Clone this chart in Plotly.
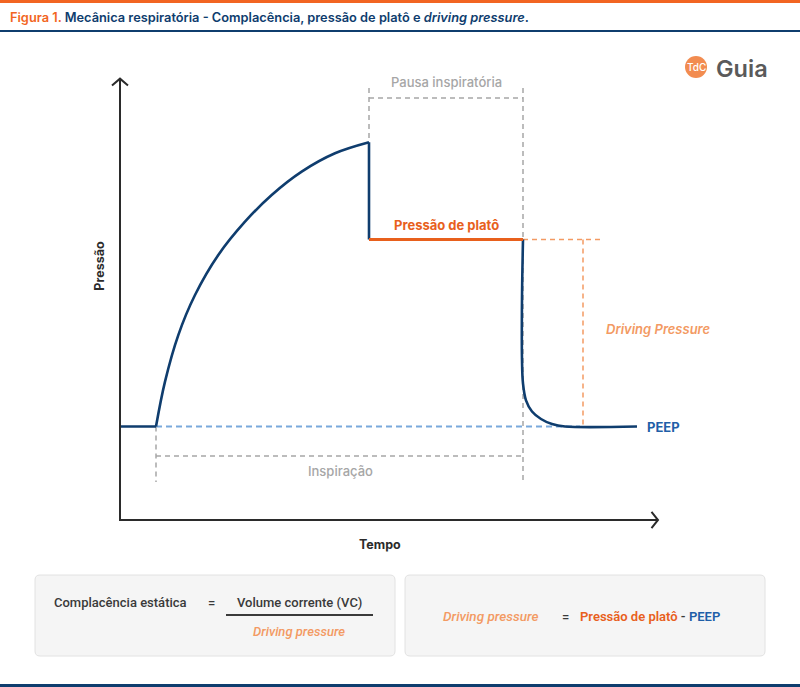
import plotly.graph_objects as go

# waveform (time in s, pressure in cmH2O)
t_base = [0.0, 0.36]
p_base = [5.0, 5.0]
t_rise = [0.36, 0.45, 0.583, 0.75, 0.983, 1.25, 1.517, 1.817, 2.15, 2.49]
p_rise = [5.0, 7.40, 9.89, 12.03, 14.17, 15.95, 17.38, 18.63, 19.61, 20.2]
t_drop = [2.49, 2.49]
p_drop = [20.2, 15.0]
t_plat = [2.49, 4.03]
p_plat = [15.0, 15.0]
t_exp = [4.03, 4.02, 4.02, 4.03, 4.06, 4.12, 4.21, 4.32, 4.45, 5.17]
p_exp = [15.0, 11.8, 8.6, 7.3, 6.4, 5.8, 5.4, 5.13, 5.0, 5.0]

PEEP = 5.0
PLATEAU = 15.0
PEAK = 20.2
T_START, T_PAUSE, T_END_INSP, T_PEEP = 0.36, 2.49, 4.03, 4.45
T_DP, T_DP_END = 4.63, 4.84
T_MAX, P_MAX = 5.38, 23.6

NAVY = "#0f3d6e"
ORANGE = "#e8601c"
LIGHT_OR = "#f39a63"
BLUE = "#1f5fa8"
LBLUE = "#7aa9dc"
GRAY = "#a6a6a6"
DARK = "#2b2b2b"

fig = go.Figure()

def line(x, y, color, width, dash=None, shape="linear", smoothing=1.0):
    fig.add_trace(go.Scatter(x=x, y=y, mode="lines", hoverinfo="skip",
                             line=dict(color=color, width=width, dash=dash, shape=shape,
                                       smoothing=smoothing),
                             showlegend=False))

# guide lines
line([T_START, T_PEEP + 0.15], [PEEP, PEEP], LBLUE, 2, "6px,4px")
line([T_START, T_START], [PEEP, 2.03], GRAY, 1.5, "5px,4px")
line([T_END_INSP, T_END_INSP], [23.1, 2.03], GRAY, 1.5, "5px,4px")
line([T_PAUSE, T_PAUSE], [23.1, PEAK], GRAY, 1.5, "5px,4px")
line([T_PAUSE, T_END_INSP], [22.57, 22.57], GRAY, 1.5, "5px,4px")
line([T_START, T_END_INSP], [3.42, 3.42], GRAY, 1.5, "5px,4px")
line([T_END_INSP, T_DP_END], [PLATEAU, PLATEAU], LIGHT_OR, 1.5, "5px,4px")
line([T_DP, T_DP], [PLATEAU, PEEP], LIGHT_OR, 1.5, "5px,4px")

# waveform
line(t_base, p_base, NAVY, 2.6)
line(t_rise, p_rise, NAVY, 2.6, shape="spline", smoothing=1.0)
line(t_drop, p_drop, NAVY, 2.6)
line(t_exp, p_exp, NAVY, 2.6, shape="spline")
line(t_plat, p_plat, ORANGE, 2.8)

# axes with open arrowheads
line([0, 0, T_MAX], [P_MAX, 0, 0], DARK, 2)
line([-0.08, 0, 0.08], [P_MAX - 0.37, P_MAX, P_MAX - 0.37], DARK, 2)
line([T_MAX - 0.065, T_MAX, T_MAX - 0.065], [0.43, 0, -0.43], DARK, 2)

ann = []
def txt(x, y, s, color, size=13, weight=600, style="normal", xanchor="center",
        ref=("x", "y"), font="Inter", angle=0):
    ann.append(dict(x=x, y=y, xref=ref[0], yref=ref[1], text=s, showarrow=False,
                    xanchor=xanchor, yanchor="middle", textangle=angle,
                    font=dict(family=font, size=size, color=color, weight=weight, style=style)))

txt((T_PAUSE + T_END_INSP) / 2, 23.42, "Pausa inspiratória", GRAY, weight=500)
txt((T_PAUSE + T_END_INSP) / 2, 15.75, "Pressão de platô", ORANGE, weight=700)
txt(4.84, 10.2, "Driving Pressure", LIGHT_OR, weight=600, style="italic", xanchor="left")
txt(5.25, PEEP, "PEEP", BLUE, weight=700, xanchor="left")
txt(2.2, 2.62, "Inspiração", GRAY, weight=500)
txt(2.6, -1.3, "Tempo", DARK, size=12.5, weight=700)
txt(-0.2, 13.6, "Pressão", DARK, size=12.5, weight=700, angle=-90)

P = ("x2", "y2")
# header
txt(8, 17, "<span style='color:#f26522'>Figura 1.</span> Mecânica respiratória - Complacência, "
    "pressão de platô e <i>driving pressure</i>.", NAVY, size=12.8, weight=600,
    xanchor="left", ref=P)
# logo
txt(696, 67, "TdC", "white", size=10, weight=500, ref=P)
txt(714, 68, "Guia", "#5a5a5a", size=23.5, weight=600, xanchor="left", ref=P)
# formula boxes
txt(52, 602, "Complacência estática", "#3a3a3a", size=13, weight=500, xanchor="left", ref=P, font="Roboto")
txt(211, 602, "=", "#3a3a3a", size=13, weight=500, ref=P, font="Roboto")
txt(299, 602, "Volume corrente (VC)", "#3a3a3a", size=13, weight=500, ref=P, font="Roboto")
txt(299, 631, "Driving pressure", LIGHT_OR, size=13, weight=500, style="italic", ref=P, font="Roboto")
txt(441, 616, "Driving pressure", LIGHT_OR, size=13.5, weight=500, style="italic", xanchor="left", ref=P, font="Roboto")
txt(565, 616, "=", "#3a3a3a", size=13, weight=500, ref=P, font="Roboto")
txt(578, 616, "Pressão de platô <span style='color:#3a3a3a'>-</span> "
    "<span style='color:#1f5fa8'>PEEP</span>", ORANGE, size=13, weight=600,
    xanchor="left", ref=P, font="Roboto")


def rbox(x0, y0, x1, y1, r=5):
    return (f"M{x0+r},{y0} L{x1-r},{y0} Q{x1},{y0} {x1},{y0+r} L{x1},{y1-r} Q{x1},{y1} {x1-r},{y1} "
            f"L{x0+r},{y1} Q{x0},{y1} {x0},{y1-r} L{x0},{y0+r} Q{x0},{y0} {x0+r},{y0} Z")

shapes = [
    dict(type="rect", xref="x2", yref="y2", x0=0, x1=800, y0=0, y1=3, fillcolor="#f26522", line_width=0),
    dict(type="rect", xref="x2", yref="y2", x0=0, x1=800, y0=30, y1=32, fillcolor=NAVY, line_width=0),
    dict(type="rect", xref="x2", yref="y2", x0=0, x1=800, y0=684, y1=687, fillcolor=NAVY, line_width=0),
    dict(type="path", xref="x2", yref="y2", path=rbox(35, 575, 395, 656), fillcolor="#f5f5f5",
         line=dict(color="#e2e2e2", width=1), layer="below"),
    dict(type="path", xref="x2", yref="y2", path=rbox(405, 575, 765, 656), fillcolor="#f5f5f5",
         line=dict(color="#e2e2e2", width=1), layer="below"),
    dict(type="line", xref="x2", yref="y2", x0=226, x1=373, y0=615, y1=615, line=dict(color="#3a3a3a", width=2)),
    dict(type="circle", xref="x2", yref="y2", x0=685, x1=707, y0=56, y1=78, fillcolor="#f28c50", line_width=0),
]

# time axis: 100 px per s, origin at 120 px; pressure: 18.7 px per cmH2O, origin at 520 px
hidden = dict(visible=False, fixedrange=True)
fig.update_layout(
    width=800, height=687, margin=dict(l=0, r=0, t=0, b=0),
    paper_bgcolor="white", plot_bgcolor="rgba(0,0,0,0)",
    xaxis=dict(domain=[0, 1], range=[-1.2, 6.8], anchor="y", **hidden),
    yaxis=dict(domain=[0, 1], range=[(520 - 687) / 18.7, 520 / 18.7], anchor="x", **hidden),
    xaxis2=dict(domain=[0, 1], range=[0, 800], anchor="y2", **hidden),
    yaxis2=dict(domain=[0, 1], range=[687, 0], anchor="x2", **hidden),
    annotations=ann, shapes=shapes,
)
fig.write_html("out.html", config={"displayModeBar": False},
               post_script="document.body.style.margin='0';")
